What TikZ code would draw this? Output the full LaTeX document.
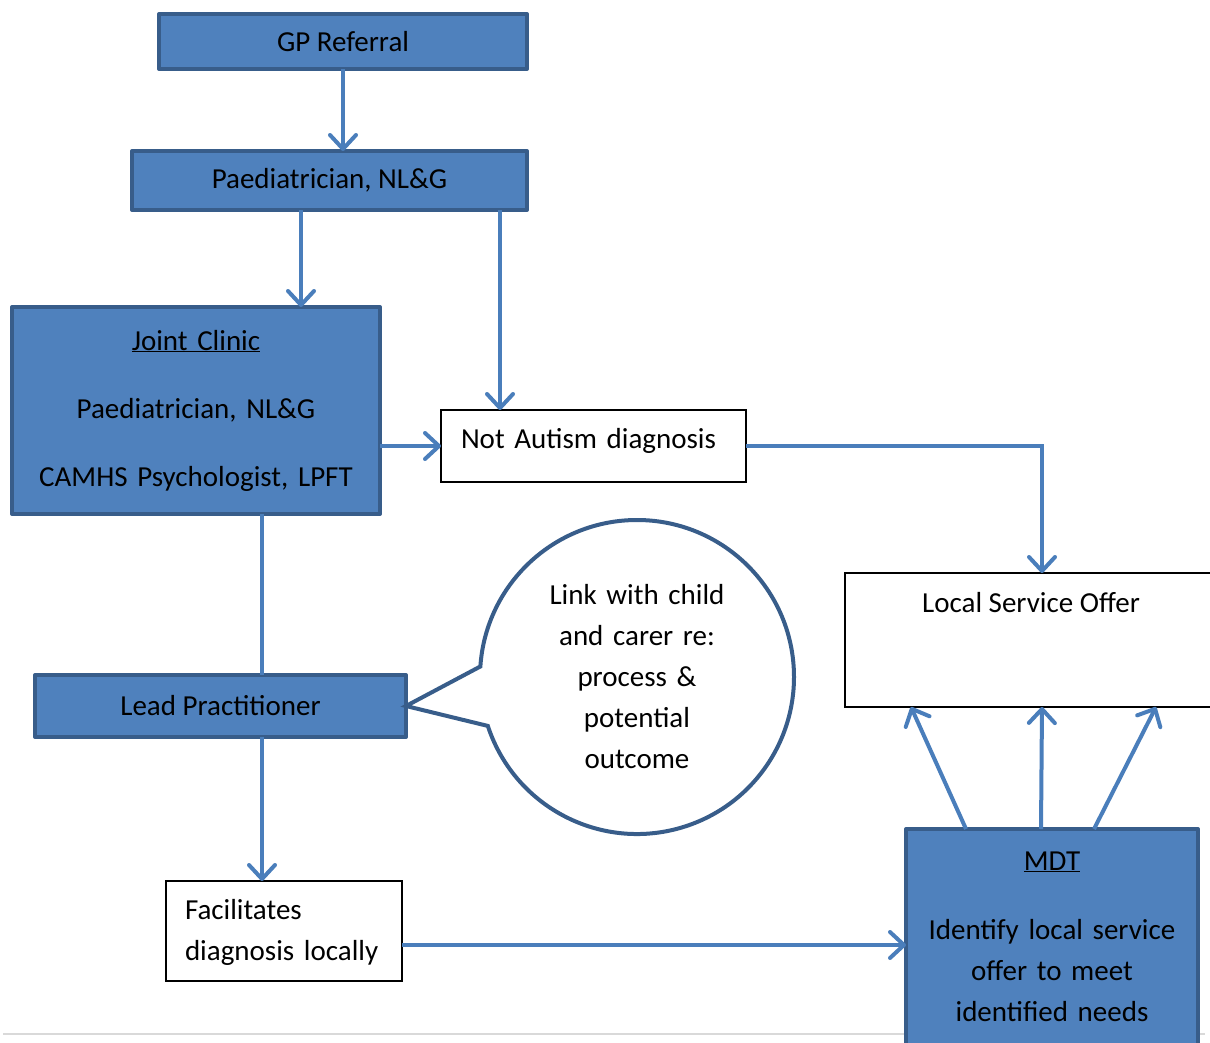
\documentclass[tikz,border=0pt]{standalone}
\usepackage{fontspec}
\setmainfont{Carlito}
\usetikzlibrary{arrows.meta}
\usetikzlibrary{shapes.callouts}
\definecolor{boxfill}{RGB}{79,129,189}
\definecolor{boxline}{RGB}{56,93,138}
\definecolor{arrowblue}{RGB}{74,126,187}
\definecolor{rulegrey}{RGB}{217,217,217}
\tikzset{
  pathway/.style={
    every node/.style={font=\fontsize{29}{41}\selectfont, inner sep=0pt, outer sep=0pt},
    blue box/.style={rectangle, draw=boxline, fill=boxfill, line width=4pt, line join=round},
    white box/.style={rectangle, draw=black, fill=white, line width=1.2pt},
    flow/.style={draw=arrowblue, line width=4pt, -{Straight Barb[length=14pt,width=26pt,round]}},
    link/.style={draw=arrowblue, line width=4pt},
    bubble/.style={ellipse callout, draw=boxline, fill=white, line width=4pt, callout pointer arc=22}
  }
}

\begin{document}
\begin{tikzpicture}[pathway, x=1pt, y=-1pt]
    \useasboundingbox (0,0) rectangle (1210,1043);
    \draw[rulegrey, line width=2pt] (3,1034) -- (1205,1034);

    \node[blue box, minimum width=368pt, minimum height=55pt] (gp) at (343,41.5) {GP Referral};
    \node[blue box, minimum width=395pt, minimum height=59pt] (paed) at (329.5,180.5) {Paediatrician, NL\&G};
    \node[blue box, minimum width=368pt, minimum height=207pt, text width=368pt, align=center] (joint) at (196,410.5)
        {\underline{Joint Clinic}\\[27pt]Paediatrician, NL\&G\\[27pt]CAMHS Psychologist, LPFT};
    \node[white box, anchor=north west, text width=265pt, align=left, inner xsep=20pt,
          text height=38pt, text depth=34pt] (notaut) at (441,410) {Not Autism diagnosis};
    \node[white box, anchor=north west, minimum width=372pt,
          text height=39pt, text depth=95pt] (lso) at (845,573) {Local Service Offer};
    \node[blue box, minimum width=371pt, minimum height=62pt] (lead) at (220.5,706) {Lead Practitioner};
    \node[bubble, minimum width=314pt, minimum height=314pt, text width=200pt, align=center,
          callout absolute pointer={(lead.east)}] (talk) at (637,677)
        {Link with child\\and carer re:\\process \&\\potential\\outcome};
    \node[white box, anchor=north west, text width=198pt, align=left, inner xsep=19pt,
          text height=38pt, text depth=62pt] (fac) at (166,881) {Facilitates\\diagnosis locally};
    \node[blue box, anchor=north, minimum width=292pt, text width=292pt, align=center,
          text height=41pt, text depth=200pt] (mdt) at (1052,829)
        {\underline{MDT}\\[28pt]Identify local service\\offer to meet\\identified needs};

    % connectors
    \coordinate (spine) at (262,0);
    \coordinate (facout) at ([yshift=-14pt]fac.east);
    \draw[flow] (gp.south) -- (gp.south |- paed.north);
    \draw[flow] ([xshift=-28.5pt]paed.south) -- ([xshift=-28.5pt]paed.south |- joint.north);
    \draw[flow] ([xshift=170.5pt]paed.south) -- ([xshift=170.5pt]paed.south |- notaut.north);
    \draw[flow] (joint.east |- notaut.west) -- (notaut.west);
    \draw[flow] (notaut.east) -| ([xshift=11pt]lso.north);
    \draw[link] (spine |- joint.south) -- (spine |- lead.north);
    \draw[flow] (spine |- lead.south) -- (spine |- fac.north);
    \draw[flow] (facout) -- (facout -| mdt.west);
    \draw[flow] ([xshift=-86pt]mdt.north) -- ([xshift=-120pt]lso.south);
    \draw[flow] ([xshift=-11pt]mdt.north) -- ([xshift=11pt]lso.south);
    \draw[flow] ([xshift=42pt]mdt.north) -- ([xshift=125pt]lso.south);
\end{tikzpicture}
\end{document}
